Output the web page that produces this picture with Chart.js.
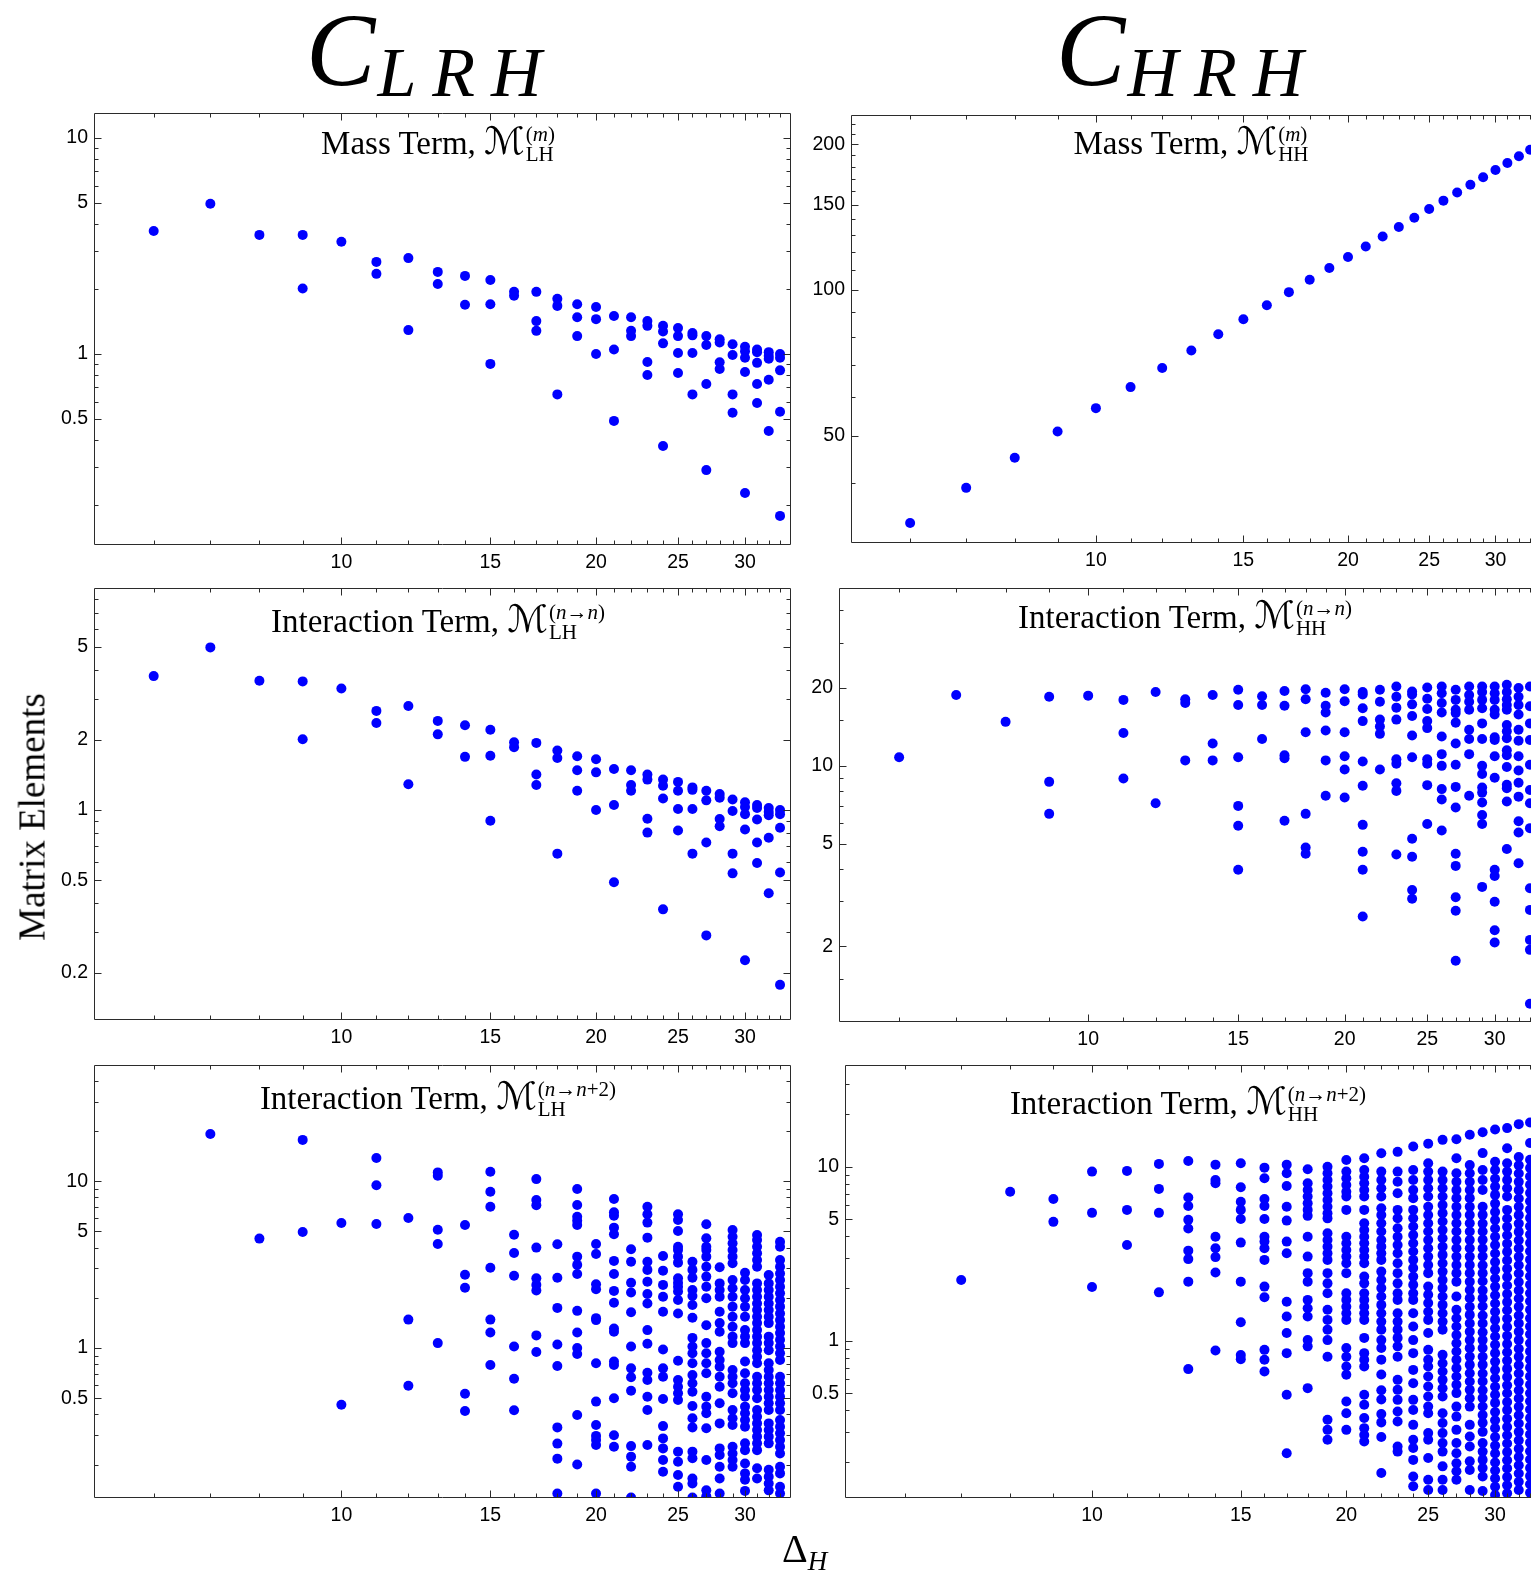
<!DOCTYPE html>
<html><head><meta charset="utf-8">
<script src="https://cdn.jsdelivr.net/npm/chart.js@4/dist/chart.umd.min.js"></script>
<style>
html,body{margin:0;padding:0;background:#fff;width:1531px;height:1570px;overflow:hidden;}
body{position:relative;}
canvas{position:absolute;}
.lbl{position:absolute;font-family:"Liberation Serif","Times New Roman",serif;color:#000;white-space:nowrap;z-index:5;}
.big{font-style:italic;font-size:104px;line-height:1;}
.big .bs{font-size:70px;letter-spacing:16px;position:relative;top:11px;margin-left:2px;}
.ttl{font-size:33px;line-height:1;transform:translateX(-50%);}
.ttl .M{font-family:"DejaVu Serif","DejaVu Sans",serif;font-size:38px;}
.ttl .ss{display:inline-block;vertical-align:-7px;font-size:21px;line-height:20px;margin-left:1px;text-align:left;}
.ttl .ss span{display:block;}
.ylab{font-size:37px;line-height:1;transform:translate(-50%,-50%) rotate(-90deg);}
.xlab{font-size:40px;line-height:1;}
.xlab i{font-size:27px;position:relative;top:8px;}
</style></head><body>

<div class="lbl big" style="left:306px;top:-2px;">C<span class="bs">LRH</span></div>
<div class="lbl big" style="left:1056px;top:-2px;">C<span class="bs">HRH</span></div>

<div class="lbl ttl" style="left:438px;top:122px;">Mass Term, <span class="M">ℳ</span><span class="ss"><span>(<i>m</i>)</span><span>LH</span></span></div>
<div class="lbl ttl" style="left:1191px;top:122px;">Mass Term, <span class="M">ℳ</span><span class="ss"><span>(<i>m</i>)</span><span>HH</span></span></div>
<div class="lbl ttl" style="left:438px;top:600px;">Interaction Term, <span class="M">ℳ</span><span class="ss"><span>(<i>n</i>→<i>n</i>)</span><span>LH</span></span></div>
<div class="lbl ttl" style="left:1185px;top:596px;">Interaction Term, <span class="M">ℳ</span><span class="ss"><span>(<i>n</i>→<i>n</i>)</span><span>HH</span></span></div>
<div class="lbl ttl" style="left:438px;top:1077px;">Interaction Term, <span class="M">ℳ</span><span class="ss"><span>(<i>n</i>→<i>n</i>+2)</span><span>LH</span></span></div>
<div class="lbl ttl" style="left:1188px;top:1082px;">Interaction Term, <span class="M">ℳ</span><span class="ss"><span>(<i>n</i>→<i>n</i>+2)</span><span>HH</span></span></div>

<div class="lbl ylab" style="left:32px;top:817px;">Matrix Elements</div>
<div class="lbl xlab" style="left:782px;top:1529px;">Δ<i>H</i></div>

<script>
// ---------------- DATA ----------------
const deltaH = [6,7,8,9,10,11,12,13,14,15,16,17,18,19,20,21,22,23,24,25,26,27,28,29,30,31,32,33];
const xMajorTicks = [10,15,20,25,30];
const xMinorTicks = [6,7,8,9,11,12,13,14,16,17,18,19,21,22,23,24,26,27,28,29,31,32,33];

// Mass term, LH (one list of values per Delta_H)
const massLH = [
 [3.71],[4.96],[3.56],[3.56,2.01],[3.31],[2.67,2.35],[2.78,1.29],[2.40,2.11],[2.30,1.69],
 [2.20,1.70,0.90],[1.94,1.86],[1.94,1.42,1.28],[1.80,1.67,0.65],[1.70,1.48,1.21],[1.65,1.45,1.00],
 [1.50,1.05,0.49],[1.48,1.28,1.21],[1.42,1.35,0.918,0.80],[1.35,1.27,1.12,0.375],[1.32,1.21,1.01,0.817],
 [1.25,1.22,1.01,0.65],[1.21,1.10,0.726,0.29],[1.17,1.13,0.915,0.852],[1.11,0.99,0.65,0.535],
 [1.08,1.03,0.96,0.825,0.227],[1.05,1.02,0.91,0.726,0.593],[1.02,0.98,0.95,0.76,0.44],[1.00,0.96,0.84,0.54,0.178]
];

// Mass term, HH
const massHH = [
 [33],[39],[45],[51],[57],[63],[69],[75],[81],[87],[93],[99],[105],[111],[117],[123],[129],[135],[141],[147],
 [153],[159],[165],[171],[177],[183],[189],[195]
];

// Interaction term n->n, LH
const interNN_LH = [
 [3.75],[4.98],[3.58],[3.56,2.01],[3.32],[2.66,2.36],[2.79,1.29],[2.41,2.11],[2.31,1.69],
 [2.21,1.71,0.90],[1.95,1.86],[1.94,1.42,1.28],[1.80,1.67,0.65],[1.70,1.48,1.21],[1.65,1.45,1.00],
 [1.50,1.05,0.49],[1.48,1.28,1.21],[1.42,1.35,0.918,0.80],[1.35,1.27,1.12,0.375],[1.32,1.21,1.01,0.817],
 [1.25,1.22,1.01,0.65],[1.21,1.10,0.726,0.29],[1.17,1.13,0.915,0.852],[1.11,0.99,0.65,0.535],
 [1.08,1.03,0.96,0.825,0.227],[1.05,1.02,0.91,0.726,0.593],[1.02,0.98,0.95,0.76,0.44],[1.00,0.96,0.84,0.54,0.178]
];

// Interaction term n->n, HH
const interNN_HH = [
 [10.8],[18.8],[14.8],[18.5,8.67,6.52],[18.7],[18.0,13.4,8.93],[19.3,7.17],[18.1,17.5,10.5],[18.8,12.2,10.5],
 [19.7,17.2,10.8,7.0,5.86,3.96],[18.6,17.2,12.7],[19.5,17.1,11.0,10.7,6.13],[19.8,18.1,13.5,6.52,4.83,4.57],
 [19.2,17.1,16.1,13.7,10.5,7.66],[19.8,17.8,13.5,10.9,9.68,7.54],
 [19.3,18.9,16.7,14.9,10.4,8.37,5.91,4.65,3.96,2.61],[19.7,17.7,15.1,14.2,13.3,9.68],
 [20.3,18.5,16.8,15.1,10.6,10.2,8.57,8.0,4.54],[19.4,18.9,17.3,15.6,13.1,10.8,5.22,4.45,3.31,3.06],
 [20.1,18.2,16.6,14.9,14.0,10.6,10.2,8.42,5.96],[20.3,19.1,17.5,16.1,13.0,11.1,10.0,8.13,7.41,5.62],
 [19.7,18.0,16.5,16.0,14.7,12.2,10.1,8.29,6.9,4.57,4.1,3.1,2.75,1.76],[20.3,18.8,17.7,16.5,13.8,12.7,11.1,7.66],
 [20.3,19.3,18.0,16.7,14.6,12.7,10.0,9.3,8.24,7.88,7.21,6.45,5.96,3.40],
 [20.3,19.1,18.0,16.5,15.8,12.9,12.6,10.9,9.0,3.96,3.75,2.98,2.31,2.07],
 [20.6,19.3,18.1,17.2,16.5,14.4,13.6,12.8,11.5,11.0,9.9,8.45,8.2,7.28,4.77],
 [20.0,18.5,17.2,15.8,13.8,12.5,10.9,9.6,8.6,7.6,6.1,5.52,4.2],
 [20.3,17.0,14.6,12.6,10.1,8.07,7.17,5.74,3.36,2.77,2.12,1.94,1.2]
];

// Interaction term n->n+2, LH
const interN2_LH = [
 [],[19.2],[4.53],[17.7,4.96],[5.62,0.457],[13.8,9.46,5.54],[6.02,1.48,0.594],[11.3,10.8,5.12,4.2,1.07],
 [5.47,2.75,2.30,0.532,0.419],[11.4,8.66,7.04,3.03,1.48,1.24,0.79],[4.78,3.71,2.71,1.02,0.654,0.423],
 [10.3,7.72,7.18,4.0,2.62,2.39,2.21,1.19,0.946],[4.19,2.64,1.74,1.05,0.78,0.334,0.267,0.217,0.134],
 [8.99,7.21,6.13,5.80,5.47,3.53,3.15,2.78,1.67,1.24,1.0,0.92,0.396,0.20],
 [4.2,3.66,2.41,2.25,1.51,1.47,0.81,0.477,0.345,0.297,0.281,0.262,0.134],
 [7.83,6.52,6.22,5.27,4.81,3.33,2.78,2.2,1.87,1.31,1.25,0.83,0.79,0.499,0.30,0.256],
 [3.91,3.29,2.46,2.15,1.64,1.02,0.755,0.667,0.554,0.258,0.223,0.194,0.127],
 [7.04,6.34,5.65,4.59,3.29,2.94,2.50,2.11,1.85,1.28,1.06,0.711,0.643,0.510,0.425,0.262],
 [3.56,2.91,2.39,2.03,1.65,0.98,0.755,0.673,0.494,0.34,0.287,0.25,0.213,0.181],
 [6.34,5.86,5.03,4.05,3.87,3.53,3.25,2.62,2.46,2.33,2.18,1.94,1.61,0.839,0.643,0.586,0.535,0.488,0.239,0.208,0.173,0.147],
 [3.29,2.94,2.64,2.23,2.05,1.81,1.52,1.15,1.02,0.93,0.81,0.689,0.614,0.547,0.449,0.379,0.334,0.239,0.218,0.165,0.154,0.127],
 [5.52,4.55,4.05,3.87,3.53,3.07,2.68,2.33,1.99,1.37,1.07,0.93,0.81,0.705,0.51,0.445,0.406,0.330,0.213,0.140,0.129],
 [3.05,2.44,2.23,2.03,1.65,1.41,1.25,0.95,0.847,0.772,0.673,0.586,0.466,0.353,0.25,0.228,0.194,0.165,0.134],
 [5.10,4.65,4.25,3.87,3.53,3.22,2.56,2.28,2.03,1.77,1.54,1.34,1.17,1.07,0.738,0.673,0.614,0.535,0.425,0.379,0.345,0.256,0.233,0.213,0.194],
 [2.83,2.56,2.23,1.99,1.77,1.54,1.28,1.17,1.07,0.83,0.705,0.614,0.56,0.51,0.445,0.406,0.37,0.337,0.268,0.244,0.203,0.177,0.162,0.139],
 [4.76,4.44,4.05,3.70,3.37,3.07,2.44,2.23,2.03,1.85,1.69,1.54,1.41,1.28,1.17,1.07,0.97,0.887,0.81,0.673,0.614,0.56,0.499,0.425,0.387,0.353,0.322,0.294,0.268,0.244,0.19,0.165],
 [2.74,2.44,2.23,2.03,1.85,1.69,1.54,1.41,1.17,1.07,0.97,0.81,0.738,0.673,0.614,0.56,0.51,0.466,0.425,0.353,0.322,0.294,0.268,0.186,0.169,0.154,0.14],
 [4.34,4.05,3.37,3.07,2.80,2.56,2.33,2.13,1.94,1.77,1.61,1.47,1.34,1.23,1.12,1.02,0.93,0.847,0.673,0.614,0.56,0.51,0.466,0.425,0.37,0.337,0.308,0.281,0.256,0.233,0.194,0.177,0.147,0.134]
];

// Interaction term n->n+2, HH
const interN2_HH = [
 [],[2.24],[7.2],[6.54,4.83],[9.39,5.44,2.04],[9.48,5.66,3.56],[10.4,7.47,5.44,1.90],
 [10.8,6.66,5.96,4.96,4.42,3.30,2.95,2.19,0.688],
 [10.3,8.41,8.05,3.97,3.41,3.03,2.47,0.88],
 [10.5,7.64,6.31,5.66,5.02,3.67,2.19,1.28,0.83,0.785],
 [9.9,8.6,6.54,5.96,5.02,3.97,3.72,3.41,2.92,2.05,1.78,0.888,0.778,0.666],
 [10.3,9.19,7.77,5.9,4.91,3.72,3.19,1.68,1.38,1.11,0.85,0.49,0.226],
 [9.69,8.05,7.37,6.75,6.18,5.66,5.23,3.97,3.05,2.45,2.19,1.72,1.54,1.38,1.01,0.93,0.535],
 [10.0,9.19,8.41,7.7,7.05,6.45,5.9,5.41,5.06,4.15,3.8,3.48,3.19,2.92,2.45,2.14,1.88,1.51,1.32,1.16,1.01,0.81,0.352,0.308,0.27],
 [10.96,9.39,8.6,7.87,7.2,6.75,5.66,3.97,3.64,3.33,3.05,2.79,2.45,1.88,1.72,1.57,1.44,1.32,0.91,0.81,0.712,0.638,0.448,0.384,0.308],
 [11.2,9.59,8.78,8.05,7.37,6.75,5.66,4.74,4.34,3.97,3.64,3.33,3.05,2.79,2.34,2.14,1.88,1.72,1.57,1.44,1.32,1.04,0.85,0.778,0.712,0.49,0.429,0.36,0.315,0.288,0.264],
 [11.97,9.39,8.41,7.54,6.75,5.79,5.29,4.74,4.25,3.80,3.48,3.19,2.92,2.50,2.24,2.01,1.80,1.61,1.44,1.29,1.16,1.01,0.91,0.78,0.64,0.52,0.46,0.38,0.34,0.28,0.174],
 [12.2,9.39,8.22,7.06,5.66,5.07,4.44,3.97,3.56,3.19,2.79,2.45,2.14,1.88,1.72,1.44,1.29,1.16,1.04,0.93,0.81,0.597,0.523,0.458,0.393,0.344,0.247,0.231],
 [13.1,9.6,8.41,7.37,6.61,5.66,5.07,4.54,4.06,3.64,3.26,2.92,2.62,2.34,2.10,1.88,1.72,1.44,1.21,1.01,0.85,0.681,0.571,0.458,0.401,0.329,0.27,0.242,0.207,0.166,0.146],
 [13.6,10.5,9.39,8.41,7.54,6.75,5.9,5.29,4.74,4.25,3.80,3.41,3.05,2.73,2.45,2.05,1.84,1.65,1.47,1.32,1.11,0.888,0.778,0.712,0.624,0.547,0.479,0.419,0.384,0.295,0.27,0.212,0.159,0.139],
 [14.3,9.39,8.41,7.54,6.75,6.04,5.42,4.85,4.34,3.89,3.48,3.12,2.79,2.50,2.24,2.01,1.80,1.61,1.44,1.29,1.16,0.831,0.744,0.666,0.597,0.534,0.479,0.384,0.337,0.295,0.259,0.231,0.19,0.159,0.139],
 [14.4,11.2,9.19,8.22,7.37,6.61,5.9,5.29,4.74,4.25,3.80,3.41,3.05,2.73,2.45,2.19,1.80,1.51,1.35,1.21,1.08,0.97,0.868,0.778,0.697,0.624,0.559,0.501,0.419,0.367,0.308,0.259,0.226,0.198,0.178,0.159],
 [15.3,10.26,9.19,8.22,7.37,6.61,5.9,5.29,4.74,4.25,3.80,3.41,3.05,2.73,2.45,2.19,1.96,1.76,1.57,1.41,1.26,1.13,1.01,0.908,0.812,0.728,0.652,0.584,0.523,0.468,0.419,0.329,0.282,0.247,0.203,0.181,0.139],
 [15.8,12.0,9.6,8.41,7.37,5.9,5.3,4.72,4.25,3.81,3.4,3.06,2.72,2.45,2.2,1.95,1.76,1.58,1.4,1.26,1.12,1.01,0.91,0.81,0.73,0.65,0.585,0.52,0.47,0.42,0.375,0.338,0.3,0.259,0.231,0.207,0.186,0.166,0.137],
 [16.4,10.7,9.6,8.55,7.7,6.9,6.15,5.5,4.95,4.42,3.97,3.56,3.18,2.84,2.55,2.28,2.05,1.83,1.64,1.47,1.32,1.18,1.06,0.95,0.85,0.76,0.68,0.61,0.545,0.49,0.44,0.39,0.35,0.315,0.28,0.25,0.225,0.2,0.18,0.162,0.145,0.13],
 [16.7,12.8,10.5,9.39,8.41,7.54,6.75,5.66,5.05,4.52,4.05,3.62,3.25,2.9,2.6,2.33,2.08,1.86,1.67,1.5,1.34,1.2,1.07,0.96,0.86,0.77,0.69,0.62,0.555,0.5,0.445,0.4,0.357,0.32,0.287,0.257,0.23,0.206,0.185,0.165,0.148,0.133],
 [17.6,11.4,10.2,9.15,8.2,7.35,6.58,5.9,5.28,4.72,4.23,3.79,3.4,3.04,2.72,2.44,2.18,1.95,1.75,1.57,1.4,1.26,1.13,1.01,0.9,0.81,0.725,0.65,0.58,0.52,0.467,0.418,0.374,0.335,0.3,0.268,0.24,0.215,0.193,0.173,0.155,0.139],
 [18.0,13.7,11.0,9.85,8.8,7.9,7.08,6.34,5.68,5.08,4.55,4.08,3.65,3.27,2.93,2.62,2.35,2.1,1.88,1.69,1.51,1.35,1.21,1.09,0.97,0.87,0.78,0.7,0.625,0.56,0.5,0.45,0.403,0.36,0.323,0.29,0.26,0.232,0.208,0.186,0.167,0.15,0.134]
];

// y tick values
const yMajor_massLH = [0.5,1,5,10];
const yMinor_massLH = [0.2,0.3,0.4,0.6,0.7,0.8,0.9,2,3,4,6,7,8,9];
const yMajor_massHH = [50,100,150,200];
const yMinor_massHH = [40,60,70,80,90,110,120,130,140,160,170,180,190,210,220];
const yMajor_nnLH = [0.2,0.5,1,2,5];
const yMinor_nnLH = [0.3,0.4,0.6,0.7,0.8,0.9,3,4,6,7,8];
const yMajor_nnHH = [2,5,10,20];
const yMinor_nnHH = [1.5,3,4,6,7,8,9,15,30,40];
const yMajor_n2LH = [0.5,1,5,10];
const yMinor_n2LH = [0.2,0.3,0.4,0.6,0.7,0.8,0.9,2,3,4,6,7,8,9,20,30,40];
const yMajor_n2HH = [0.5,1,5,10];
const yMinor_n2HH = [0.2,0.3,0.4,0.6,0.7,0.8,0.9,2,3,4,6,7,8,9,20,30];

// ---------------- RENDER ----------------
function toPoints(cols){
  const pts=[];
  cols.forEach((vals,i)=>vals.forEach(v=>pts.push({x:deltaH[i],y:v})));
  return pts;
}

const framePlugin = {
  id:'frame',
  afterDraw(chart, args, o){
    const ctx=chart.ctx, a=chart.chartArea, xs=chart.scales.x, ys=chart.scales.y;
    const l=a.left+0.5, r=a.right-0.5, t=a.top+0.5, b=a.bottom-0.5;
    ctx.save();
    ctx.strokeStyle='#2b2b2b'; ctx.lineWidth=1;
    ctx.beginPath();
    ctx.rect(l,t,r-l,b-t);
    o.xTicks.forEach(v=>{
      if(v<xs.min||v>xs.max) return;
      const p=Math.round(xs.getPixelForValue(v))+0.5;
      const len=o.xMajor.includes(v)?7:4;
      ctx.moveTo(p,b); ctx.lineTo(p,b-len);
      ctx.moveTo(p,t); ctx.lineTo(p,t+len);
    });
    o.yTicks.forEach(v=>{
      if(v<ys.min||v>ys.max) return;
      const p=Math.round(ys.getPixelForValue(v))+0.5;
      const len=o.yMajor.includes(v)?7:4;
      ctx.moveTo(l,p); ctx.lineTo(l+len,p);
      ctx.moveTo(r,p); ctx.lineTo(r-len,p);
    });
    ctx.stroke();
    ctx.restore();
  }
};

const panels = [
  {L:94,  T:113,  R:791,  B:545,  ymin:0.1305, ymax:13.06, yMajor:yMajor_massLH, yMinor:yMinor_massLH, cols:massLH},
  {L:851, T:115,  R:1541, B:543,  ymin:30.0,   ymax:230,   yMajor:yMajor_massHH, yMinor:yMinor_massHH, cols:massHH},
  {L:94,  T:588,  R:791,  B:1020, ymin:0.1258, ymax:8.95,  yMajor:yMajor_nnLH,   yMinor:yMinor_nnLH,   cols:interNN_LH},
  {L:839, T:588,  R:1541, B:1022, ymin:1.02,   ymax:48.8,  yMajor:yMajor_nnHH,   yMinor:yMinor_nnHH,   cols:interNN_HH},
  {L:94,  T:1065, R:791,  B:1498, ymin:0.126,  ymax:49.8,  yMajor:yMajor_n2LH,   yMinor:yMinor_n2LH,   cols:interN2_LH},
  {L:845, T:1065, R:1541, B:1498, ymin:0.125,  ymax:38.5,  yMajor:yMajor_n2HH,   yMinor:yMinor_n2HH,   cols:interN2_HH}
];

const YW=80, PT=20, PR=20, XH=40;
const xTicksAll = xMajorTicks.concat(xMinorTicks).sort((a,b)=>a-b);
const tickFont = {family:'"Liberation Sans", Arial, sans-serif', size:19.5};

panels.forEach(p=>{
  const c=document.createElement('canvas');
  const w=p.R-p.L+YW+PR, h=p.B-p.T+PT+XH;
  c.width=w; c.height=h;
  c.style.left=(p.L-YW)+'px'; c.style.top=(p.T-PT)+'px';
  c.style.width=w+'px'; c.style.height=h+'px';
  document.body.appendChild(c);
  const yTicks=p.yMajor.concat(p.yMinor).filter(v=>v>=p.ymin&&v<=p.ymax).sort((a,b)=>a-b);
  new Chart(c,{
    type:'scatter',
    data:{datasets:[{data:toPoints(p.cols),backgroundColor:'#0000ff',borderWidth:0,pointRadius:5,pointHoverRadius:5}]},
    options:{
      responsive:false, animation:false, events:[],
      layout:{padding:{left:0,top:PT,right:PR,bottom:0}},
      plugins:{legend:{display:false},tooltip:{enabled:false},
        frame:{xTicks:xTicksAll,xMajor:xMajorTicks,yTicks:yTicks,yMajor:p.yMajor}},
      scales:{
        x:{type:'logarithmic',min:5.1,max:34,
           afterFit:s=>{s.height=XH;},
           afterBuildTicks:s=>{s.ticks=xTicksAll.map(v=>({value:v}));},
           grid:{display:false,drawTicks:false},border:{display:false},
           ticks:{autoSkip:false,maxRotation:0,minRotation:0,padding:6,font:tickFont,color:'#000',
                  callback:v=>xMajorTicks.includes(v)?String(v):''}},
        y:{type:'logarithmic',min:p.ymin,max:p.ymax,
           afterFit:s=>{s.width=YW;},
           afterBuildTicks:s=>{s.ticks=yTicks.map(v=>({value:v}));},
           grid:{display:false,drawTicks:false},border:{display:false},
           ticks:{autoSkip:false,padding:6,font:tickFont,color:'#000',
                  callback:v=>p.yMajor.includes(v)?String(v):''}}
      }
    },
    plugins:[framePlugin]
  });
});
</script>
</body></html>
